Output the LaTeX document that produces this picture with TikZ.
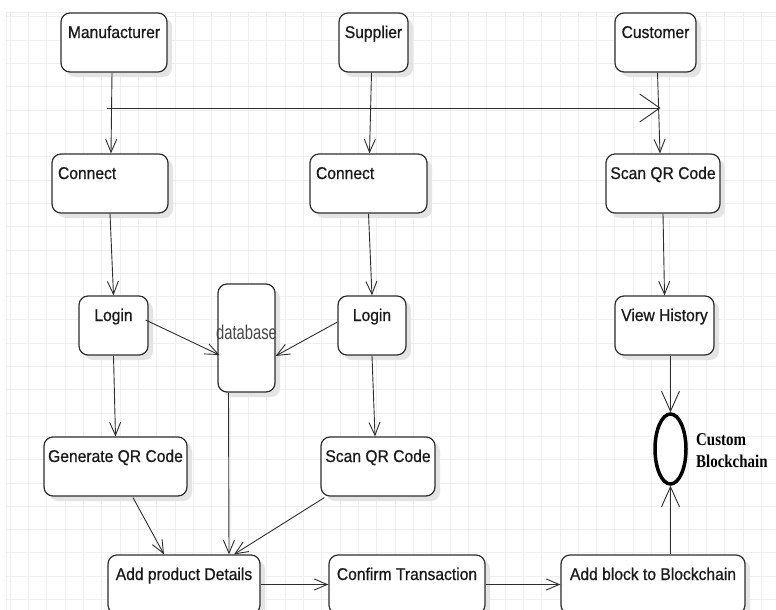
\documentclass[tikz,border=0pt]{standalone}
\usepackage{fontspec}
\usepackage{tikz}
\usetikzlibrary{arrows.meta,positioning,shapes.geometric,shadows}
\newfontfamily\boxfont{Liberation Sans}[FakeStretch=0.92,FakeBold=0.7]
\newfontfamily\dbfont{Liberation Sans}[FakeStretch=0.74]
\newfontfamily\chainfont{Liberation Serif}[FakeStretch=0.83]
\definecolor{flline}{HTML}{2E2E2E}
\definecolor{flgrid}{HTML}{EFEFEF}
\definecolor{flshadow}{HTML}{E4E4E4}
\definecolor{fltext}{HTML}{1A1A1A}

\begin{document}
\begin{tikzpicture}[x=1pt,y=-1pt,
    gridline/.style={draw=flgrid,line width=0.8pt},
    state/.style={draw=flline,fill=white,line width=1.2pt,rounded corners=9pt,
      inner xsep=0pt,inner ysep=0pt,text height=25pt,text=fltext,
      font=\boxfont\fontsize{17}{20}\selectfont,
      drop shadow={shadow xshift=5pt,shadow yshift=-5pt,fill=flshadow,opacity=1}},
    statebox/.style={state,minimum width=#1,text depth=34pt},
    leftbox/.style={state,text width=#1,align=left,inner xsep=6pt,text depth=34pt},
    flow/.style={draw=flline,line width=0.9pt,-{Straight Barb[length=13pt,width=11pt]}},
    bigflow/.style={flow,-{Straight Barb[length=20pt,width=28pt]}},
    chainflow/.style={flow,-{Straight Barb[length=20pt,width=18pt]}}]
  \useasboundingbox (0,0) rectangle (776,610);
  \clip (0,0) rectangle (776,610);
  \fill[white] (0,0) rectangle (776,610);

  % grid
  \foreach \gx in {10,28.33,...,776} \draw[gridline] (\gx,12) -- (\gx,610);
  \foreach \gy in {16.9,40.2,...,610} \draw[gridline] (6,\gy) -- (776,\gy);
  \draw[gridline] (6,12) -- (776,12);
  \draw[gridline] (6,12) -- (6,610);

  % actors
  \node[statebox=106pt] (mfr) at (114,42.5) {Manufacturer};
  \node[statebox=69pt] (sup) at (373.5,42.5) {Supplier};
  \node[statebox=81pt] (cus) at (655.5,42.5) {Customer};

  % steps
  \node[leftbox=104pt] (con1) at (110,183.5) {Connect};
  \node[leftbox=105pt] (con2) at (368.5,183.5) {Connect};
  \node[statebox=114pt] (scanc) at (663,183.5) {Scan QR Code};
  \node[statebox=69pt] (login1) at (113.5,325.5) {Login};
  \node[state,minimum width=57pt,text height=22pt,text depth=86pt,
    font=\dbfont\fontsize{20}{22}\selectfont,text=black!72] (db) at (246.5,338) {\makebox[57pt]{\raisebox{-33pt}{database}}};
  \node[statebox=68pt] (login2) at (372,325.5) {Login};
  \node[statebox=99pt] (vh) at (664.5,325.5) {View History};
  \node[statebox=143pt] (gen) at (115.5,466.5) {Generate QR Code};
  \node[statebox=114pt] (scans) at (378,466.5) {Scan QR Code};
  \node[statebox=152pt] (apd) at (184,584.5) {Add product Details};
  \node[statebox=156pt] (ct) at (407,584.5) {Confirm Transaction};
  \node[statebox=184pt] (ab) at (653,584.5) {Add block to Blockchain};

  % blockchain
  \node[ellipse,draw=black,line width=3.5pt,fill=white,minimum width=31pt,minimum height=70pt,inner sep=0pt] (ell) at (670.5,449) {};
  \node[anchor=west,align=left,inner sep=0pt,text=black,
    font=\chainfont\bfseries\fontsize{18}{22}\selectfont] (elltxt) at (696,451) {Custom\\Blockchain};

  % connectors
  \coordinate (tapA) at (107,108);
  \coordinate (tapB) at ([shift={(5,0)}]cus.south |- tapA);
  \draw[bigflow] (tapA) -- (tapB);
  \draw[flow] ([shift={(-2,0)}]mfr.south) -- ([shift={(1,0)}]con1.north);
  \draw[flow] ([shift={(-2,0)}]sup.south) -- ([shift={(1,0)}]con2.north);
  \draw[flow] ([shift={(2,0)}]cus.south) -- ([shift={(-3,0)}]scanc.north);
  \draw[flow] (con1.south) -- (login1.north);
  \draw[flow] (con2.south) -- (login2.north);
  \draw[flow] (scanc.south) -- (vh.north);
  \draw[flow] ([shift={(-3,-5.5)}]login1.east) -- ([shift={(2,17)}]db.west);
  \draw[flow] ([shift={(0,-3.5)}]login2.west) -- ([shift={(0,18)}]db.east);
  \draw[flow] (login1.south) -- (gen.north);
  \draw[flow] (login2.south) -- ([shift={(-3,0)}]scans.north);
  \draw[flow] ([shift={(-18,0)}]db.south) -- ([shift={(45,0)}]apd.north);
  \draw[flow] ([shift={(17.5,1)}]gen.south) -- ([shift={(-20,0)}]apd.north);
  \draw[flow] ([shift={(4,1)}]scans.south west) -- ([shift={(50,0)}]apd.north);
  \draw[flow] (apd.east) -- (ct.west);
  \draw[flow] (ct.east) -- (ab.west);
  \draw[chainflow] (vh.south -| ell.north) -- (ell.north);
  \draw[chainflow] (ab.north -| ell.south) -- (ell.south);
\end{tikzpicture}
\end{document}
